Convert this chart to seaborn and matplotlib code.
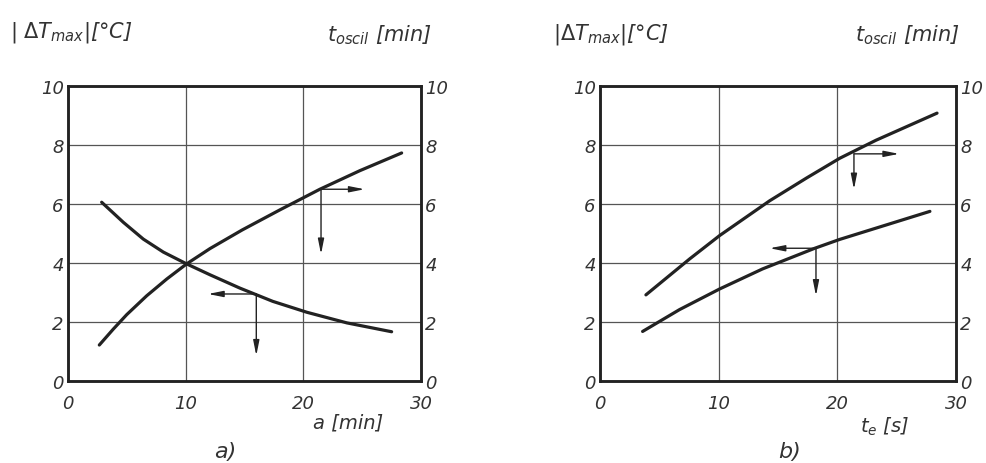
import matplotlib
matplotlib.use("Agg")
import matplotlib.pyplot as plt
import pandas as pd
import seaborn as sns

# panel a: x = a [min]
a_dt_x = [2.86, 4.7, 6.4, 8.1, 10.08, 12.07, 14.6, 17.4, 20.3, 23.7, 27.5]
a_dt_y = [6.06, 5.38, 4.81, 4.37, 3.97, 3.6, 3.15, 2.7, 2.33, 1.97, 1.67]
a_osc_x = [2.66, 3.85, 4.99, 6.69, 8.4, 10.08, 12.07, 14.8, 18.0, 21.4, 24.8, 28.35]
a_osc_y = [1.22, 1.76, 2.25, 2.89, 3.46, 3.97, 4.49, 5.12, 5.8, 6.5, 7.13, 7.73]

# panel b: x = t_e [s]
b_dt_x = [3.59, 6.7, 10.08, 13.7, 18.1, 20.2, 23.8, 27.8]
b_dt_y = [1.68, 2.42, 3.12, 3.8, 4.5, 4.8, 5.25, 5.75]
b_osc_x = [3.87, 7.56, 10.08, 14.3, 17.4, 20.2, 23.25, 28.4]
b_osc_y = [2.92, 4.14, 4.93, 6.11, 6.88, 7.55, 8.16, 9.08]

ticks_x = [0, 10, 20, 30]
ticks_y = [0, 2, 4, 6, 8, 10]

# reading arrows: (start x, start y, horizontal end x, vertical end y)
a_arrows = [(21.5, 6.5, 25.2, 4.3), (16.0, 2.95, 11.9, 0.86)]
b_arrows = [(21.4, 7.7, 25.2, 6.5), (18.2, 4.5, 14.3, 2.89)]

INK = "#222222"
TXT = "#333333"

sns.set_style("white")
plt.rcParams["font.family"] = ["DejaVu Sans"]
plt.rcParams["mathtext.default"] = "it"

fig = plt.figure(figsize=(9.87, 4.64), dpi=100)


def draw_panel(rect, dt_x, dt_y, osc_x, osc_y, arrows):
    ax = fig.add_axes(rect)
    ax2 = ax.twinx()
    df_dt = pd.DataFrame({"x": dt_x, "y": dt_y})
    df_osc = pd.DataFrame({"x": osc_x, "y": osc_y})
    line_kw = dict(color=INK, lw=2.3, solid_joinstyle="round",
                   solid_capstyle="round")
    sns.lineplot(data=df_dt, x="x", y="y", ax=ax, **line_kw)
    sns.lineplot(data=df_osc, x="x", y="y", ax=ax2, **line_kw)

    for a in (ax, ax2):
        a.set_xlim(0, 30)
        a.set_ylim(0, 10)
        a.set_xlabel("")
        a.set_ylabel("")
        a.set_yticks(ticks_y)
        a.set_yticklabels([str(t) for t in ticks_y], fontsize=13,
                          style="italic", color=TXT)
        a.tick_params(axis="y", length=0, pad=3)
        for s in a.spines.values():
            s.set_linewidth(1.8)
            s.set_color(INK)
    ax.set_xticks(ticks_x)
    ax.set_xticklabels([str(t) for t in ticks_x], fontsize=13,
                       style="italic", color=TXT)
    ax.tick_params(axis="x", length=0, pad=9)
    ax.grid(True, color="#555555", lw=0.9)
    ax.set_axisbelow(True)

    kw = dict(arrowstyle="-|>,head_length=0.9,head_width=0.18",
              color=INK, lw=1.0, shrinkA=0, shrinkB=0)
    for x0, y0, xh, yv in arrows:
        ax.annotate("", xy=(xh, y0), xytext=(x0, y0), arrowprops=kw)
        ax.annotate("", xy=(x0, yv), xytext=(x0, y0), arrowprops=kw)
    return ax


draw_panel([0.0689, 0.1767, 0.3577, 0.6358], a_dt_x, a_dt_y, a_osc_x, a_osc_y, a_arrows)
draw_panel([0.6079, 0.1767, 0.3607, 0.6358], b_dt_x, b_dt_y, b_osc_x, b_osc_y, b_arrows)

txt = dict(fontsize=15, style="italic", color=TXT, va="center")
fig.text(0.010, 0.929, r"| $\Delta T_{max}$|[°C]", **txt)
fig.text(0.331, 0.925, r"$t_{oscil}$ [min]", **txt)
fig.text(0.560, 0.925, r"|$\Delta T_{max}$|[°C]", **txt)
fig.text(0.866, 0.925, r"$t_{oscil}$ [min]", **txt)

fig.text(0.317, 0.088, "a [min]", **{**txt, "fontsize": 14})
fig.text(0.228, 0.026, "a)", ha="center", fontsize=16, style="italic",
         color=TXT, va="center")
fig.text(0.871, 0.080, r"$t_e$ [s]", **{**txt, "fontsize": 14})
fig.text(0.800, 0.026, "b)", ha="center", fontsize=16, style="italic",
         color=TXT, va="center")

fig.savefig("out.png", dpi=100)
